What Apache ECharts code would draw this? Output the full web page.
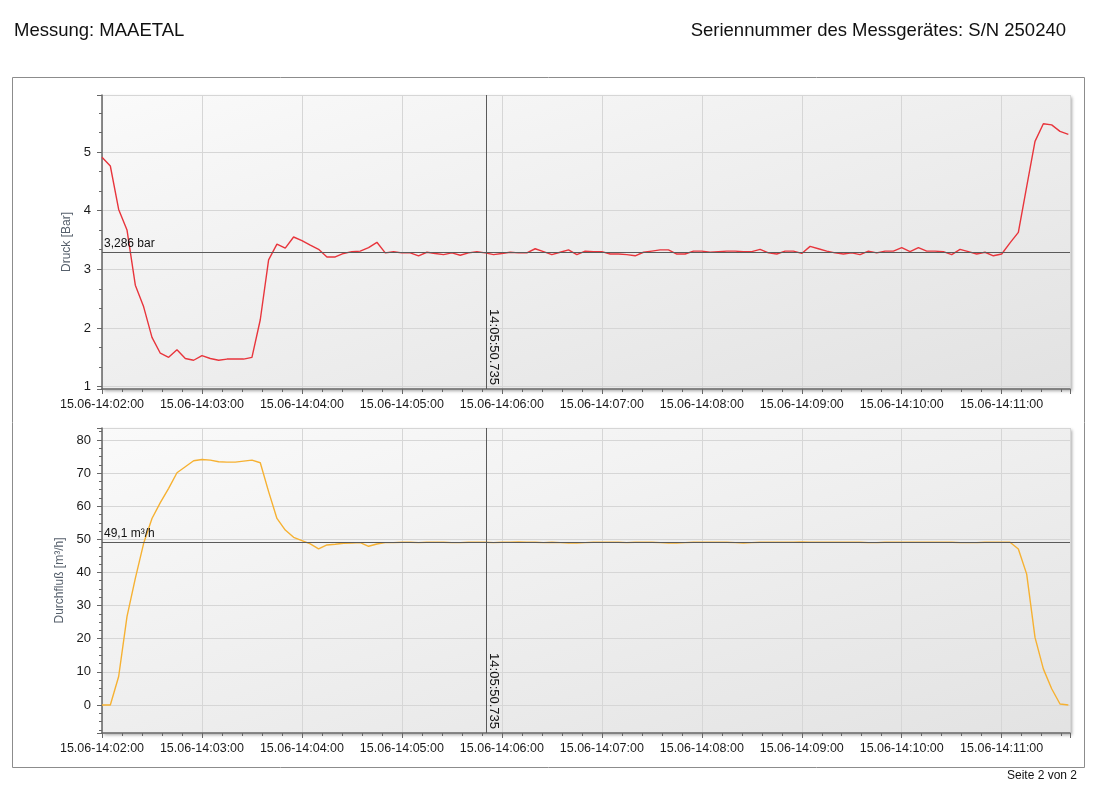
<!DOCTYPE html>
<html>
<head>
<meta charset="utf-8">
<script src="https://cdn.jsdelivr.net/npm/echarts@6/dist/echarts.min.js"></script>
<style>
html,body{margin:0;padding:0;background:#fff;}
#chart{width:1109px;height:800px;}
</style>
</head>
<body>
<div id="chart"></div>
<script>
// ---- data ----
const START_UTC = '2023-06-15T14:02:00Z';   // first sample
const SAMPLE_STEP_S = 5;                     // sampling step in seconds
const CURSOR_TIME = '2023-06-15T14:05:50.735Z';
const CURSOR_LABEL = '14:05:50.735';
const AXIS_END_UTC = '2023-06-15T14:11:41Z';

const pressureBar = [
  4.91, 4.76, 4.02, 3.67, 2.73, 2.36, 1.84, 1.57, 1.50, 1.63, 1.48, 1.45,
  1.53, 1.48, 1.45, 1.47, 1.47, 1.47, 1.50, 2.14, 3.16, 3.43, 3.36, 3.55,
  3.49, 3.41, 3.34, 3.21, 3.21, 3.27, 3.30, 3.31, 3.37, 3.46, 3.28, 3.30,
  3.28, 3.28, 3.23, 3.29, 3.27, 3.25, 3.28, 3.24, 3.28, 3.30, 3.28, 3.25,
  3.27, 3.29, 3.28, 3.28, 3.35, 3.30, 3.25, 3.29, 3.33, 3.25, 3.31, 3.30,
  3.30, 3.26, 3.26, 3.25, 3.23, 3.29, 3.31, 3.33, 3.33, 3.26, 3.26, 3.31,
  3.31, 3.29, 3.30, 3.31, 3.31, 3.30, 3.30, 3.34, 3.28, 3.26, 3.31, 3.31,
  3.27, 3.39, 3.35, 3.31, 3.28, 3.26, 3.28, 3.25, 3.31, 3.28, 3.31, 3.31,
  3.37, 3.30, 3.37, 3.31, 3.31, 3.30, 3.25, 3.34, 3.30, 3.26, 3.29, 3.23,
  3.26, 3.45, 3.63, 4.41, 5.18, 5.48, 5.46, 5.35, 5.30
];

const flowM3h = [
  0, 0, 8.6, 26.7, 38.2, 48.8, 56.3, 61.1, 65.4, 70.1, 71.9, 73.7,
  74.1, 73.9, 73.4, 73.3, 73.3, 73.6, 73.9, 73.1, 64.4, 56.3, 52.8, 50.6,
  49.6, 48.6, 47.1, 48.3, 48.5, 48.8,
  48.9, 49.0, 47.9, 48.6, 49.0,
  49.0, 49.1, 49.1, 49.0, 49.1, 49.1, 49.1, 49.0, 49.0, 49.1,
  49.1, 49.1, 49.0, 49.1, 49.1, 49.2, 49.1, 49.1, 49.0, 49.1,
  49.0, 48.9, 48.9, 49.0, 49.1, 49.1, 49.1, 49.1, 49.0, 49.1,
  49.1, 49.1, 49.0, 48.9, 48.9, 49.0, 49.1, 49.1, 49.1, 49.1,
  49.1, 49.0, 48.9, 49.0, 49.1, 49.1, 49.1, 49.1, 49.1, 49.2,
  49.1, 49.1, 49.1, 49.1, 49.1, 49.1, 49.1, 49.0, 49.0, 49.1,
  49.1, 49.1, 49.1, 49.1, 49.1, 49.1, 49.1, 49.1, 49.0, 49.0,
  49.0, 49.1, 49.1, 49.1, 49.1,
  47.1, 39.5, 20.4, 10.9, 4.9, 0.3, 0
];

const pressureRef = 3.286;  const pressureRefLabel = '3,286 bar';
const flowRef = 49.1;       const flowRefLabel = '49,1 m³/h';

const pressureAxisName = 'Druck [Bar]';
const flowAxisName = 'Durchfluß [m³/h]';
const titleLeft = 'Messung: MAAETAL';
const titleRight = 'Seriennummer des Messgerätes: S/N 250240';
const footer = 'Seite 2 von 2';

// ---- build ----
const t0 = Date.parse(START_UTC);
const tEnd = Date.parse(AXIS_END_UTC);
const tCursor = Date.parse(CURSOR_TIME);
const pressureData = pressureBar.map((v, i) => [t0 + i * SAMPLE_STEP_S * 1000, v]);
const flowData = flowM3h.map((v, i) => [t0 + i * SAMPLE_STEP_S * 1000, v]);

const pad = n => String(n).padStart(2, '0');
const fmtTime = v => {
  const d = new Date(v);
  return pad(d.getUTCDate()) + '.' + pad(d.getUTCMonth() + 1) + '-' +
    pad(d.getUTCHours()) + ':' + pad(d.getUTCMinutes()) + ':' + pad(d.getUTCSeconds());
};

const FONT = 'Liberation Sans, Arial, sans-serif';
const AXIS_COLOR = '#666';
const plotBg = new echarts.graphic.LinearGradient(0, 0, 0.17, 1.83, [
  { offset: 0, color: '#fafafa' },
  { offset: 1, color: '#e2e2e2' }
]);

function xAxisCfg(gi) {
  return {
    type: 'value', gridIndex: gi, min: t0, max: tEnd, interval: 60000,
    axisLine: { show: true, onZero: false, lineStyle: { color: AXIS_COLOR, width: 1.5 } },
    axisTick: { show: true, length: 5, lineStyle: { color: AXIS_COLOR } },
    minorTick: { show: true, splitNumber: 5, length: 3, lineStyle: { color: AXIS_COLOR } },
    splitLine: { show: true, lineStyle: { color: '#d6d6d6', width: 1 } },
    axisLabel: { formatter: fmtTime, color: '#1a1a1a', fontFamily: FONT, fontSize: 12.5,
      margin: 9, showMaxLabel: false, showMinLabel: true }
  };
}
function yAxisCfg(gi, min, max, split, minor, name, gap) {
  return {
    type: 'value', gridIndex: gi, min: min, max: max, splitNumber: split,
    name: name, nameLocation: 'middle', nameGap: gap,
    nameTextStyle: { color: '#56606c', fontFamily: FONT, fontSize: 12 },
    axisLine: { show: true, onZero: false, lineStyle: { color: AXIS_COLOR, width: 1.5 } },
    axisTick: { show: true, length: 5, lineStyle: { color: AXIS_COLOR } },
    minorTick: { show: true, splitNumber: minor, length: 3, lineStyle: { color: AXIS_COLOR } },
    splitLine: { show: true, lineStyle: { color: '#d6d6d6', width: 1 } },
    axisLabel: { color: '#1a1a1a', fontFamily: FONT, fontSize: 13, margin: 11,
      showMinLabel: false, showMaxLabel: false,
      formatter: v => (Math.abs(v - Math.round(v)) < 1e-6 ? String(Math.round(v)) : '') }
  };
}
function refLine(val, label) {
  return {
    silent: true, symbol: 'none', animation: false,
    data: [
      { yAxis: val, lineStyle: { color: '#5a5a5a', width: 1, type: 'solid' },
        label: { show: true, formatter: label, position: 'insideStartTop', distance: [2, 3],
          color: '#111', fontFamily: FONT, fontSize: 12 } },
      { xAxis: tCursor, lineStyle: { color: '#5a5a5a', width: 1, type: 'solid' },
        label: { show: false } }
    ]
  };
}

const grids = [
  { left: 102, top: 95, width: 968, height: 294 },
  { left: 102, top: 428, width: 968, height: 305 }
].map(g => Object.assign(g, {
  show: true, backgroundColor: plotBg, borderWidth: 0,
  shadowColor: 'rgba(0,0,0,0.35)', shadowBlur: 3, shadowOffsetX: 2, shadowOffsetY: 2
}));

const option = {
  animation: false,
  backgroundColor: '#fff',
  grid: grids,
  xAxis: [xAxisCfg(0), xAxisCfg(1)],
  yAxis: [
    yAxisCfg(0, 0.96, 5.97, 5, 3, pressureAxisName, 28),
    yAxisCfg(1, -8.45, 83.6, 9, 4, flowAxisName, 36)
  ],
  series: [
    { type: 'line', xAxisIndex: 0, yAxisIndex: 0, data: [], showSymbol: false,
      markLine: refLine(pressureRef, pressureRefLabel), z: 1 },
    { type: 'line', xAxisIndex: 1, yAxisIndex: 1, data: [], showSymbol: false,
      markLine: refLine(flowRef, flowRefLabel), z: 1 },
    { type: 'line', xAxisIndex: 0, yAxisIndex: 0, data: pressureData, showSymbol: false,
      lineStyle: { color: '#e8353c', width: 1.4 }, itemStyle: { color: '#e8353c' }, z: 3 },
    { type: 'line', xAxisIndex: 1, yAxisIndex: 1, data: flowData, showSymbol: false,
      lineStyle: { color: '#f6b132', width: 1.4 }, itemStyle: { color: '#f6b132' }, z: 3 }
  ],
  graphic: [
    { id: 'frame', type: 'rect', shape: { x: 12.5, y: 77.5, width: 1072, height: 690 },
      style: { fill: 'none', stroke: '#8c8c8c', lineWidth: 1 }, z: -10, silent: true },
    { id: 't1', type: 'text', x: 14, y: 31,
      style: { text: titleLeft, font: '18.5px ' + FONT, fill: '#111', verticalAlign: 'middle' } },
    { id: 't2', type: 'text', x: 1066, y: 31,
      style: { text: titleRight, font: '18.5px ' + FONT, fill: '#111', align: 'right', verticalAlign: 'middle' } },
    { id: 'ft', type: 'text', x: 1077, y: 776,
      style: { text: footer, font: '12px ' + FONT, fill: '#111', align: 'right', verticalAlign: 'middle' } }
  ]
};

const chart = echarts.init(document.getElementById('chart'), null, { renderer: 'canvas' });
chart.setOption(option);

// cursor time labels, positioned through the axes' own scales
const extra = [];
[[0, 0.96], [1, -8.45]].forEach(([gi, ymin], k) => {
  const p = chart.convertToPixel({ gridIndex: gi }, [tCursor, ymin]);
  extra.push({ id: 'cur' + k, type: 'text', x: p[0] + 1, y: p[1] - 4, rotation: -Math.PI / 2,
    style: { text: CURSOR_LABEL, font: '13px ' + FONT, fill: '#111', align: 'right', verticalAlign: 'bottom' },
    z: 10 });
});
chart.setOption({ graphic: extra });
</script>
</body>
</html>
